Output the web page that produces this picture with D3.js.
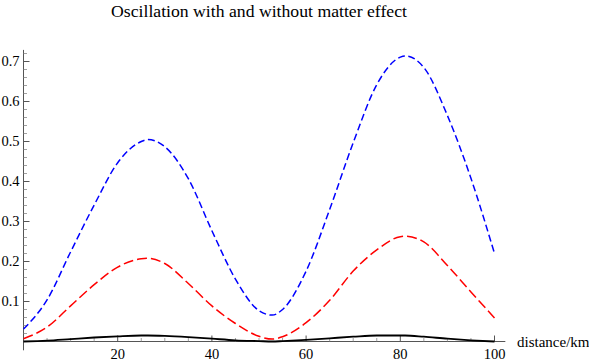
<!DOCTYPE html>
<html>
<head>
<meta charset="utf-8">
<script src="https://cdn.jsdelivr.net/npm/d3@7"></script>
<style>
  body { margin: 0; background: #fff; }
</style>
</head>
<body>
<svg id="chart" width="589" height="363"></svg>
<script>
// distance in km
const distance = [0, 5, 10, 15, 20, 25, 26.4, 30, 35, 40, 45, 50, 52.8, 55, 60, 65, 70, 75, 80, 81, 85, 90, 95, 100];
// with matter effect (blue, short dashes)
const blueVals = [0.031, 0.104, 0.224, 0.341, 0.447, 0.500, 0.505, 0.487, 0.407, 0.277, 0.156, 0.077, 0.066, 0.080, 0.176, 0.330, 0.497, 0.642, 0.711, 0.714, 0.685, 0.565, 0.408, 0.220];
// without matter effect (red, long dashes)
const redVals = [0.007, 0.036, 0.089, 0.142, 0.186, 0.207, 0.208, 0.195, 0.145, 0.089, 0.045, 0.013, 0.006, 0.012, 0.047, 0.103, 0.176, 0.229, 0.262, 0.263, 0.249, 0.190, 0.124, 0.059];
// black solid
const blackVals = [0.000, 0.002, 0.006, 0.010, 0.013, 0.015, 0.015, 0.014, 0.011, 0.007, 0.003, 0.001, 0.000, 0.001, 0.004, 0.008, 0.012, 0.015, 0.015, 0.015, 0.012, 0.007, 0.003, 0.000];

const xTicks = [20, 40, 60, 80, 100];
const yTicks = [0.1, 0.2, 0.3, 0.4, 0.5, 0.6, 0.7];
const titleText = "Oscillation with and without matter effect";
const xLabel = "distance/km";

const svg = d3.select("#chart");
const serif = "'Liberation Serif', 'Times New Roman', serif";

// Step 1: scales
let x = d3.scaleLinear().domain([0, 100]).range([23.5, 494.5]);
let y = d3.scaleLinear().domain([0, 0.7]).range([341.5, 61.5]);

const axisColor = "#555";

// Step 2: axes (drawn by hand, Mathematica style)
let axes = svg.append("g");
axes.append("line")
  .attr("x1", x(0)).attr("x2", x(102.3))
  .attr("y1", y(0)).attr("y2", y(0))
  .attr("stroke", axisColor).attr("stroke-width", 1);
axes.append("line")
  .attr("x1", x(0)).attr("x2", x(0))
  .attr("y1", y(-0.022)).attr("y2", y(0.729))
  .attr("stroke", axisColor).attr("stroke-width", 1);

// x minor ticks every 5
axes.selectAll(".xminor")
  .data(d3.range(5, 101, 5).filter(v => v % 20 !== 0))
  .enter().append("line")
  .attr("x1", d => x(d)).attr("x2", d => x(d))
  .attr("y1", y(0)).attr("y2", y(0) - 3.5)
  .attr("stroke", "#888").attr("stroke-width", 0.8);
axes.selectAll(".xmajor")
  .data(xTicks)
  .enter().append("line")
  .attr("x1", d => x(d)).attr("x2", d => x(d))
  .attr("y1", y(0)).attr("y2", y(0) - 6)
  .attr("stroke", axisColor).attr("stroke-width", 1);
axes.selectAll(".xlab")
  .data(xTicks)
  .enter().append("text")
  .attr("x", d => x(d)).attr("y", 359)
  .attr("text-anchor", "middle")
  .attr("font-family", serif)
  .attr("font-size", 14.5)
  .text(d => d);

// y minor ticks every 0.02
axes.selectAll(".yminor")
  .data(d3.range(1, 37).map(i => i * 0.02).filter((v, i) => (i + 1) % 5 !== 0))
  .enter().append("line")
  .attr("x1", x(0)).attr("x2", x(0) + 3.5)
  .attr("y1", d => y(d)).attr("y2", d => y(d))
  .attr("stroke", "#888").attr("stroke-width", 0.8);
axes.selectAll(".ymajor")
  .data(yTicks)
  .enter().append("line")
  .attr("x1", x(0)).attr("x2", x(0) + 6)
  .attr("y1", d => y(d)).attr("y2", d => y(d))
  .attr("stroke", axisColor).attr("stroke-width", 1);
axes.selectAll(".ylab")
  .data(yTicks)
  .enter().append("text")
  .attr("x", 19.5).attr("y", d => y(d) + 4.5)
  .attr("text-anchor", "end")
  .attr("font-family", serif)
  .attr("font-size", 14.5)
  .text(d => d3.format(".1f")(d));

// Step 3: labels
svg.append("text")
  .attr("x", 517).attr("y", 347)
  .attr("font-family", serif)
  .attr("font-size", 15)
  .text(xLabel);
svg.append("text")
  .attr("x", (x(0) + x(100)) / 2).attr("y", 17)
  .attr("text-anchor", "middle")
  .attr("font-family", serif)
  .attr("font-size", 17.7)
  .text(titleText);

// Step 4: curves
let line = d3.line()
  .x(d => x(d[0]))
  .y(d => y(d[1]))
  .curve(d3.curveMonotoneX);

const series = [
  { vals: blackVals, color: "#000", dash: null, w: 1.8 },
  { vals: redVals, color: "#ff0000", dash: "10,4", w: 1.5 },
  { vals: blueVals, color: "#0000ff", dash: "7,3.5", w: 1.5 }
];
svg.selectAll(".curve")
  .data(series)
  .enter().append("path")
  .attr("class", "curve")
  .attr("fill", "none")
  .attr("stroke", d => d.color)
  .attr("stroke-width", d => d.w)
  .attr("stroke-dasharray", d => d.dash)
  .attr("d", d => line(distance.map((v, i) => [v, d.vals[i]])));
</script>
</body>
</html>
